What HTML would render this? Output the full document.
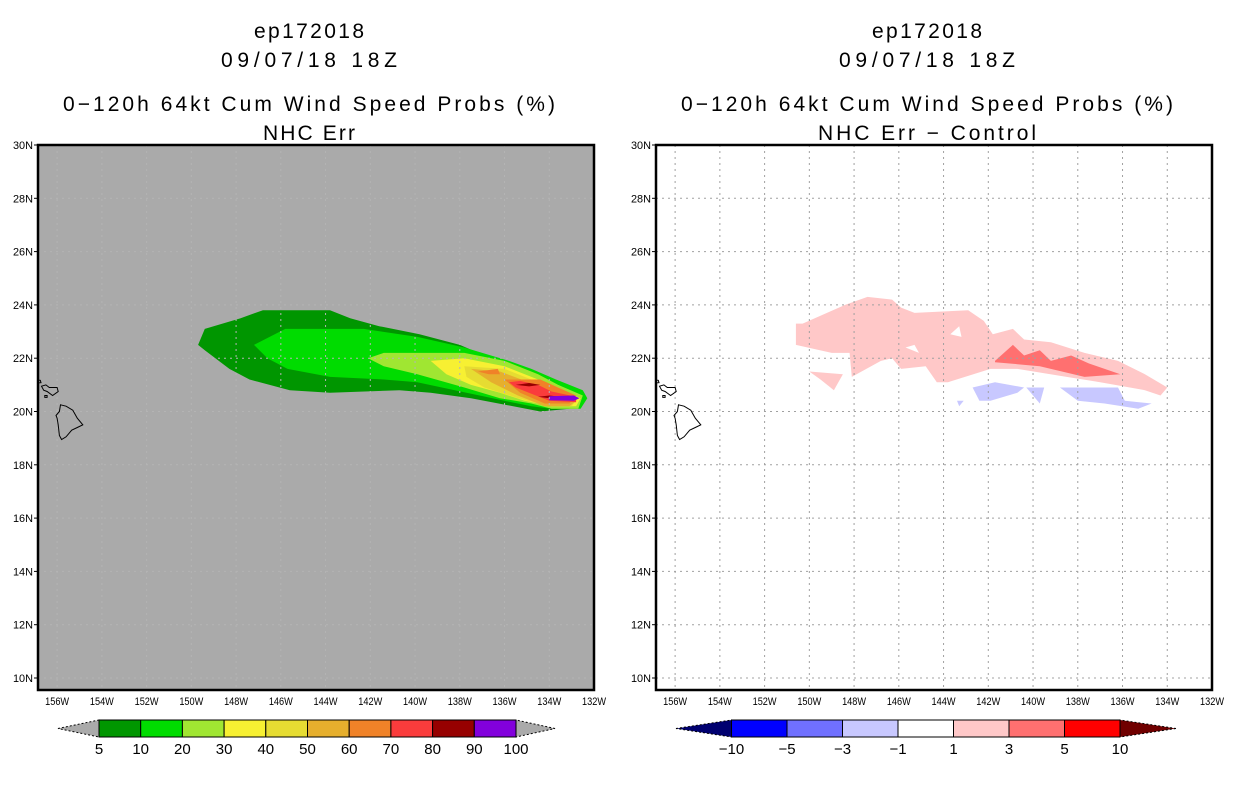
<!DOCTYPE html>
<html><head><meta charset="utf-8"><style>
html,body{margin:0;padding:0;background:#fff;width:1236px;height:800px;overflow:hidden}
svg{display:block}
text{font-family:"Liberation Sans",sans-serif;fill:#000}
</style></head><body>
<svg id="chart" width="1236" height="800" viewBox="0 0 1236 800">
<g id="titles">
<text x="309" y="38" font-size="21" text-anchor="middle" textLength="110">ep172018</text>
<text x="309" y="67" font-size="21" text-anchor="middle" textLength="176">09/07/18 18Z</text>
<text x="309" y="111" font-size="21" text-anchor="middle" textLength="492">0−120h 64kt Cum Wind Speed Probs (%)</text>
<text x="309" y="140" font-size="21" text-anchor="middle" textLength="92">NHC Err</text>
<text x="927" y="38" font-size="21" text-anchor="middle" textLength="110">ep172018</text>
<text x="927" y="67" font-size="21" text-anchor="middle" textLength="176">09/07/18 18Z</text>
<text x="927" y="111" font-size="21" text-anchor="middle" textLength="492">0−120h 64kt Cum Wind Speed Probs (%)</text>
<text x="927" y="140" font-size="21" text-anchor="middle" textLength="218">NHC Err − Control</text>
</g>
<defs>
<clipPath id="clipL"><rect x="38" y="145" width="556" height="545"/></clipPath>
<clipPath id="clipR"><rect x="656" y="145" width="556" height="545"/></clipPath>
</defs>
</svg>
<script>
// ---- data ----
const lonTicks = [156,154,152,150,148,146,144,142,140,138,136,134,132];
const latTicks = [30,28,26,24,22,20,18,16,14,12,10];
const probLevels = [5,10,20,30,40,50,60,70,80,90,100];
const probColors = ["#009600","#00DC00","#A0E632","#F7F032","#E6DC32","#E6AF2D","#F08228","#FA3C3C","#960000","#8200DC"];
const diffLevels = [-10,-5,-3,-1,1,3,5,10];
const diffColors = ["#000070","#0000FF","#7070FF","#C8C8FF","#FFFFFF","#FFC8C8","#FF7070","#FF0000","#700000"];
// contour polygons [lonW, latN]
const prob5 = [[149.7,22.5],[149.4,23.1],[147.8,23.5],[146.8,23.8],[143.8,23.8],[142.9,23.5],[141.6,23.2],[139.8,22.9],[138.0,22.5],[136.6,22.0],[135.8,21.6],[134.9,21.4],[134.2,20.9],[133.1,20.9],[132.6,20.5],[133.1,20.1],[134.4,20.0],[137.5,20.5],[139.3,20.7],[140.7,20.8],[143.8,20.7],[145.6,20.8],[147.4,21.2],[148.3,21.6],[149.4,22.3]];
const prob10 = [[147.2,22.5],[145.8,23.1],[142.3,23.1],[139.9,22.8],[137.8,22.4],[135.8,21.9],[134.8,21.6],[133.7,21.2],[132.5,20.8],[132.3,20.5],[132.6,20.1],[133.9,20.1],[134.8,20.2],[136.0,20.4],[137.7,20.7],[139.9,21.1],[141.4,21.2],[143.8,21.3],[145.7,21.6],[146.6,22.0]];
const prob20 = [[142.1,22.0],[141.4,22.2],[137.8,22.2],[136.0,21.9],[134.5,21.4],[133.6,21.0],[132.5,20.6],[132.7,20.1],[133.9,20.1],[134.8,20.3],[136.2,20.5],[137.8,20.9],[139.9,21.4],[141.4,21.7]];
const prob30 = [[139.3,21.9],[137.8,22.0],[136.0,21.7],[134.5,21.2],[133.6,20.9],[132.6,20.5],[132.8,20.2],[133.9,20.2],[135.1,20.4],[136.2,20.7],[137.5,21.0],[138.6,21.4]];
const prob40 = [[137.8,21.7],[136.0,21.6],[134.5,21.1],[133.6,20.8],[132.7,20.5],[133.0,20.2],[134.0,20.2],[135.4,20.5],[136.9,20.9],[137.7,21.3]];
const prob50 = [[137.5,21.6],[136.2,21.5],[134.6,21.0],[133.7,20.7],[132.8,20.4],[133.1,20.2],[134.2,20.2],[135.4,20.6],[136.6,21.1]];
const prob60a = [[137.2,21.5],[136.3,21.6],[136.2,21.4],[136.7,21.4]];
const prob60b = [[136.0,21.2],[134.4,21.2],[132.8,20.6],[133.1,20.3],[134.2,20.3],[135.3,20.7]];
const prob70 = [[135.8,21.1],[135.3,21.15],[134.5,21.0],[133.9,20.75],[132.8,20.55],[132.8,20.35],[134.0,20.4],[134.6,20.6],[135.5,20.9]];
const prob80a = [[135.5,21.0],[134.9,21.07],[134.4,21.0],[134.9,20.94]];
const prob80b = [[134.5,20.55],[134.0,20.6],[133.5,20.55],[134.0,20.5]];
const prob90 = [[134.0,20.57],[132.9,20.6],[132.65,20.5],[132.9,20.4],[134.0,20.42]];
const diffPos1 = [[150.6,23.3],[150.3,23.3],[148.4,24.0],[147.4,24.3],[146.3,24.2],[145.9,23.9],[145.3,23.7],[142.9,23.8],[142.2,23.4],[141.8,22.9],[140.9,23.1],[140.4,22.7],[139.2,22.6],[137.7,22.2],[136.2,21.9],[135.0,21.4],[134.0,20.9],[134.3,20.6],[135.0,20.8],[137.0,21.1],[138.5,21.3],[140.7,21.6],[141.9,21.6],[143.8,21.1],[144.3,21.1],[144.8,21.7],[145.9,21.6],[146.3,22.0],[146.8,21.9],[148.1,21.3],[148.2,22.2],[149.0,22.2],[150.6,22.5]];
const diffPosSmall = [[150.0,21.5],[148.5,21.4],[148.9,20.8],[149.5,21.2]];
const diffHole1 = [[145.7,22.4],[145.3,22.5],[145.1,22.2]];
const diffHole2 = [[143.7,22.9],[143.3,23.2],[143.2,22.8]];
const diffPos3 = [[141.7,21.9],[140.9,22.5],[140.4,22.1],[139.7,22.3],[139.2,21.9],[138.3,22.1],[137.5,21.8],[136.1,21.4],[137.7,21.3],[139.7,21.7],[141.7,21.85]];
const diffNeg1 = [[142.7,20.9],[141.7,21.1],[140.4,20.9],[140.7,20.7],[141.9,20.4],[142.4,20.4]];
const diffNeg2 = [[140.3,20.9],[139.5,20.9],[139.7,20.3]];
const diffNeg3 = [[138.8,20.9],[136.2,20.9],[135.9,20.4],[134.7,20.3],[135.3,20.1],[136.8,20.3],[138.0,20.4]];
const diffNeg4 = [[143.4,20.4],[143.1,20.4],[143.3,20.2]];
const bigIsland = [[155.85,20.25],[155.6,20.2],[155.3,20.05],[155.1,19.75],[154.85,19.5],[155.1,19.4],[155.35,19.3],[155.6,19.05],[155.8,18.95],[155.9,19.1],[155.95,19.5],[156.0,19.75],[156.05,19.85],[155.9,20.0]];
const maui = [[156.7,20.95],[156.5,21.0],[156.35,20.9],[156.0,20.9],[155.95,20.75],[156.2,20.6],[156.45,20.75],[156.6,20.8]];
const molokai = [[157.2,21.2],[156.75,21.17],[156.72,21.08],[157.2,21.05]];
const kahoolawe = [[156.55,20.6],[156.45,20.6],[156.45,20.53],[156.55,20.53]];

// ---- scales ----
function xScale(lonW, off){ return 594 + off - (lonW - 132) * 22.37; }
function yScale(latN){ return 678 - (latN - 10) * 26.65; }
const NS = "http://www.w3.org/2000/svg";
const svg = document.getElementById('chart');
function mk(tag, attrs, parent){ const e = document.createElementNS(NS, tag); for (const k in attrs) e.setAttribute(k, attrs[k]); (parent||svg).appendChild(e); return e; }
function pts(poly, off){ return poly.map(p => xScale(p[0],off).toFixed(1)+','+yScale(p[1]).toFixed(1)).join(' '); }

function drawPanel(off, clipId, bg, panelName){
  const g = mk('g', {'clip-path':'url(#'+clipId+')'});
  
  
  const r = mk('rect', {x:38+off, y:145, width:556, height:545, fill:bg}, g);
  
  
  return g;
}
function fillPoly(g, poly, off, color, name){
  const p = mk('polygon', {points:pts(poly,off), fill:color}, g);
  
  
}
function drawGrid(g, off, color){
  lonTicks.forEach(l => { if (l===132) return;
    const ln = mk('line', {x1:xScale(l,off), x2:xScale(l,off), y1:145, y2:690, stroke:color, 'stroke-width':1, 'stroke-dasharray':'2,4'}, g);
    
    
  });
  latTicks.forEach(l => { if (l===30) return;
    const ln = mk('line', {x1:38+off, x2:594+off, y1:yScale(l), y2:yScale(l), stroke:color, 'stroke-width':1, 'stroke-dasharray':'2,4'}, g);
    
    
  });
}
function drawCoast(g, off){
  [bigIsland, maui, molokai, kahoolawe].forEach(isl => {
    const p = mk('polygon', {points:pts(isl,off), fill:'none', stroke:'#000', 'stroke-width':1}, g);
    
    
  });
}
function drawAxes(off, panelName){
  const fr = mk('rect', {x:38+off, y:145, width:556, height:545, fill:'none', stroke:'#000', 'stroke-width':2.5});
  
  
  lonTicks.forEach(l => {
    const x = xScale(l, off);
    const t = mk('text', {x:x, y:705, 'font-size':11, 'text-anchor':'middle', textLength:24, lengthAdjust:'spacingAndGlyphs'});
    t.textContent = l + 'W';
    
    
  });
  latTicks.forEach(l => {
    const y = yScale(l);
    const tk = mk('line', {x1:34+off, x2:38+off, y1:y, y2:y, stroke:'#000', 'stroke-width':1});
    
    
    const t = mk('text', {x:33+off, y:y+4, 'font-size':11, 'text-anchor':'end', textLength:20, lengthAdjust:'spacingAndGlyphs'});
    t.textContent = l + 'N';
    
    
  });
}
function drawColorbar(x0, x1, tipL, tipR, levels, colors, name){
  const g = mk('g', {});
  
  
  const n = colors.length - 2, w = (x1 - x0) / n, y0 = 720, y1 = 737, ym = 728.5;
  const lt = mk('polygon', {points:tipL+','+ym+' '+x0+','+y0+' '+x0+','+y1, fill:colors[0], stroke:'#000', 'stroke-width':1, 'stroke-dasharray':'2,2'}, g);
  
  
  const rt = mk('polygon', {points:tipR+','+ym+' '+x1+','+y0+' '+x1+','+y1, fill:colors[colors.length-1], stroke:'#000', 'stroke-width':1, 'stroke-dasharray':'2,2'}, g);
  
  
  for (let i=0;i<n;i++){
    const b = mk('rect', {x:x0+i*w, y:y0, width:w, height:y1-y0, fill:colors[i+1], stroke:'#000', 'stroke-width':1}, g);
    
    
  }
  levels.forEach((v,i) => {
    const t = mk('text', {x:x0+i*w, y:754, 'font-size':15, 'text-anchor':'middle'}, g);
    t.textContent = v < 0 ? '−' + Math.abs(v) : String(v);
    
    
  });
}

// ---- left panel ----
const gL = drawPanel(0, 'clipL', '#AAAAAA', 'left');
const probPolys = [[prob5],[prob10],[prob20],[prob30],[prob40],[prob50],[prob60a,prob60b],[prob70],[prob80a,prob80b],[prob90]];
probPolys.forEach((set,i) => set.forEach(poly => fillPoly(gL, poly, 0, probColors[i], 'prob-contour-' + probLevels[i])));
drawGrid(gL, 0, '#B4B4B4');
drawCoast(gL, 0);
drawAxes(0, 'left');
drawColorbar(99, 516, 58, 555, probLevels, ['#AAAAAA'].concat(probColors).concat(['#AAAAAA']), 'prob-colorbar');

// ---- right panel ----
const OFF = 618;
const gR = drawPanel(OFF, 'clipR', '#FFFFFF', 'right');
fillPoly(gR, diffPos1, OFF, diffColors[5], 'diff-contour-1-to-3');
fillPoly(gR, diffPosSmall, OFF, diffColors[5], 'diff-contour-1-to-3');
fillPoly(gR, diffHole1, OFF, diffColors[4], 'diff-contour-hole');
fillPoly(gR, diffHole2, OFF, diffColors[4], 'diff-contour-hole');
fillPoly(gR, diffPos3, OFF, diffColors[6], 'diff-contour-3-to-5');
[diffNeg1, diffNeg2, diffNeg3, diffNeg4].forEach(p => fillPoly(gR, p, OFF, diffColors[3], 'diff-contour-minus1-to-minus3'));
drawGrid(gR, OFF, '#A0A0A0');
drawCoast(gR, OFF);
drawAxes(OFF, 'right');
drawColorbar(731.5, 1120, 676, 1176, diffLevels, diffColors, 'diff-colorbar');
</script>
</body></html>
